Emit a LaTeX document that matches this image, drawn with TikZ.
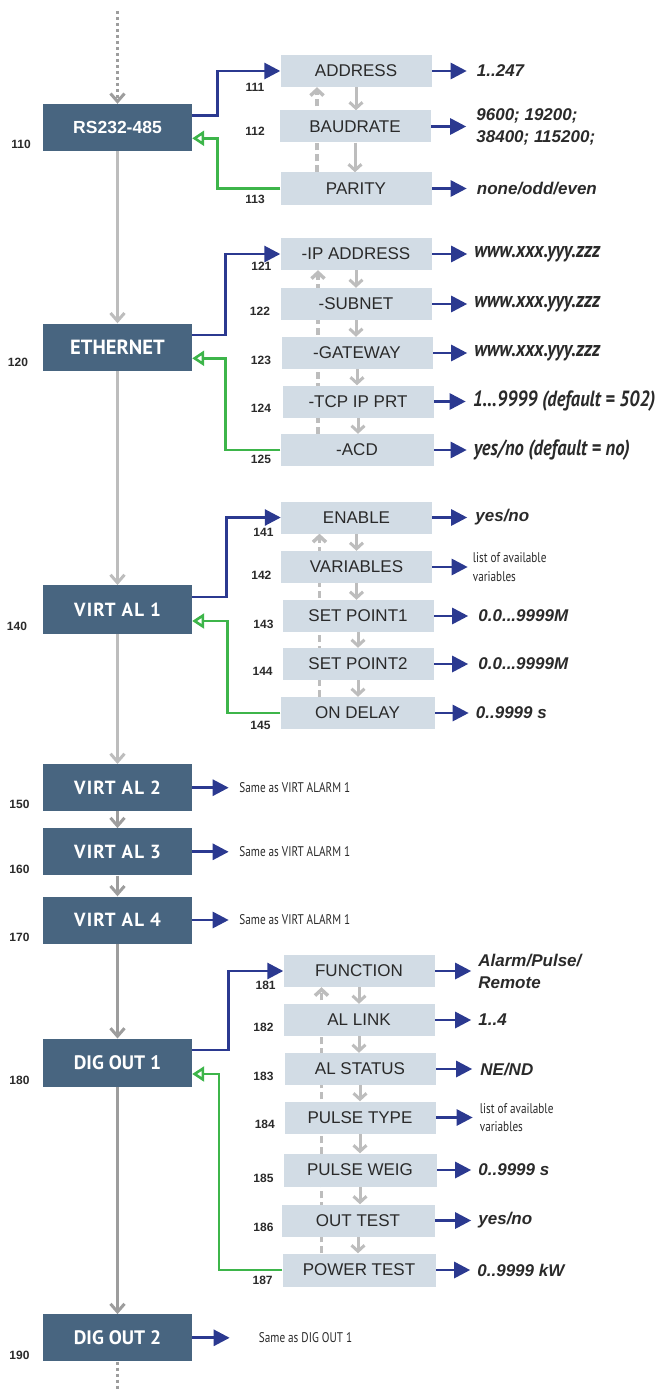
\documentclass[tikz,border=0pt]{standalone}
\usepackage{fontspec}
\setmainfont{Liberation Sans}
\newfontfamily\myr[FakeStretch=0.8]{PT Sans}
\newfontfamily\myrv[FakeStretch=0.84]{PT Sans}
\newfontfamily\myrw{PT Sans}
\newfontfamily\myrsp[LetterSpace=6]{PT Sans}
\usetikzlibrary{arrows.meta,backgrounds}
\definecolor{mainfill}{HTML}{486580}
\definecolor{subfill}{HTML}{D2DCE5}
\definecolor{navy}{HTML}{2B3990}
\definecolor{grn}{HTML}{3DB54A}
\definecolor{lgray}{HTML}{BDBDBD}
\definecolor{dgray}{HTML}{9D9D9D}
\definecolor{txt}{HTML}{2A2A2A}
\begin{document}
\begin{tikzpicture}[x=1pt,y=-1pt,
 mainbox/.style={fill=mainfill,text=white,minimum width=149pt,minimum height=47pt,inner sep=0pt,font=\myrw\bfseries\fontsize{19.5}{22}\selectfont},
 subbox/.style={fill=subfill,text=txt,minimum width=151pt,minimum height=32pt,inner sep=0pt,font=\fontsize{17}{19}\selectfont},
 num/.style={text=txt,inner sep=0pt,font=\bfseries\fontsize{12}{14}\selectfont},
 val/.style={anchor=west,text=txt,inner sep=0pt,align=left,font=\bfseries\itshape\fontsize{17}{22}\selectfont},
 valm/.style={anchor=west,text=txt,inner sep=0pt,font=\myrv\bfseries\itshape\fontsize{22}{24}\selectfont},
 note/.style={anchor=west,text=txt,inner sep=0pt,align=left,font=\myr\fontsize{14}{18.5}\selectfont},
 bluearr/.style={draw=navy,line width=2.8pt,-{Triangle[length=16pt,width=16pt]}},
 greenarr/.style={draw=grn,line width=2.6pt,-{Triangle[open,length=12pt,width=15pt]}},
 flowl/.style={draw=lgray,line width=3pt,-{Straight Barb[length=8pt,width=14pt]}},
 flowd/.style={draw=dgray,line width=3pt,-{Straight Barb[length=8pt,width=14pt]}},
 downarr/.style={draw=lgray,line width=3pt,-{Straight Barb[length=6pt,width=13pt]}},
 uparr/.style={draw=lgray,line width=3.5pt,dash pattern=on 7pt off 4pt,-{Straight Barb[length=6pt,width=13pt]}},
]
\useasboundingbox (0,0) rectangle (663,1391);

% ---------- main column ----------
\node[mainbox,font=\bfseries\fontsize{17.5}{20}\selectfont] (rs) at (117.5,127.5) {RS232-485};
\node[mainbox,font=\myrw\bfseries\fontsize{20.5}{22}\selectfont] (eth) at (117.5,347) {ETHERNET};
\node[mainbox,minimum height=48.5pt,font=\myrsp\bfseries\fontsize{19}{22}\selectfont] (va1) at (117.5,609.5) {VIRT AL 1};
\node[mainbox,font=\myrsp\bfseries\fontsize{19}{22}\selectfont] (va2) at (117.5,787.7) {VIRT AL 2};
\node[mainbox,font=\myrsp\bfseries\fontsize{19}{22}\selectfont] (va3) at (117.5,851.8) {VIRT AL 3};
\node[mainbox,font=\myrsp\bfseries\fontsize{19}{22}\selectfont] (va4) at (117.5,920) {VIRT AL 4};
\node[mainbox,minimum height=48pt] (do1) at (117.5,1062.7) {DIG OUT 1};
\node[mainbox] (do2) at (117.5,1337.8) {DIG OUT 2};
\coordinate (top) at (117.5,11);
\coordinate (bot) at (117.5,1391);

\node[num] (n110) at (21,144) {110};
\node[num] (n120) at (18,362.7) {120};
\node[num] (n140) at (17,626.7) {140};
\node[num] (n150) at (19.5,804.7) {150};
\node[num] (n160) at (19.5,869) {160};
\node[num] (n170) at (19.5,937.3) {170};
\node[num] (n180) at (19.5,1080) {180};
\node[num] (n190) at (19.5,1355) {190};

% ---------- RS232 group ----------
\node[subbox] (addr) at (356,71) {ADDRESS};
\node[subbox] (baud) at (355,126.5) {BAUDRATE};
\node[subbox] (par) at (356,188.5) {PARITY};
\node[num] (n111) at (255,87.3) {111};
\node[num] (n112) at (255,131.7) {112};
\node[num] (n113) at (255,199.3) {113};
\node[val] (v111) at ([xshift=45pt]addr.east) {1..247};
\node[val] (v112) at ([xshift=45.5pt]baud.east) {9600; 19200;\\38400; 115200;};
\node[val] (v113) at ([xshift=45pt]par.east) {none/odd/even};

% ---------- ETHERNET group ----------
\node[subbox] (ip) at (356,254) {-IP ADDRESS};
\node[subbox] (sub) at (356,304) {-SUBNET};
\node[subbox] (gw) at (357,353) {-GATEWAY};
\node[subbox] (tcp) at (358,401.5) {-TCP IP PRT};
\node[subbox,minimum width=153pt] (acd) at (357,450) {-ACD};
\node[num] (n121) at (261.4,266) {121};
\node[num] (n122) at (260,311.7) {122};
\node[num] (n123) at (261,360.7) {123};
\node[num] (n124) at (261,408.3) {124};
\node[num] (n125) at (261,459.3) {125};
\node[valm] (v121) at ([xshift=42.5pt]ip.east) {www.xxx.yyy.zzz};
\node[valm] (v122) at ([xshift=42.5pt]sub.east) {www.xxx.yyy.zzz};
\node[valm] (v123) at ([xshift=41.5pt]gw.east) {www.xxx.yyy.zzz};
\node[valm] (v124) at ([xshift=39pt]tcp.east) {1…9999 (default = 502)};
\node[valm] (v125) at ([xshift=40pt]acd.east) {yes/no (default = no)};

% ---------- VIRT AL 1 group ----------
\node[subbox] (en) at (356.5,517.5) {ENABLE};
\node[subbox] (var) at (356.5,567) {VARIABLES};
\node[subbox] (sp1) at (358,616) {SET POINT1};
\node[subbox] (sp2) at (358,664) {SET POINT2};
\node[subbox,minimum width=154pt] (ond) at (357.5,713) {ON DELAY};
\node[num] (n141) at (263.5,532.7) {141};
\node[num] (n142) at (261.4,575) {142};
\node[num] (n143) at (263.5,624) {143};
\node[num] (n144) at (262.6,671.7) {144};
\node[num] (n145) at (260.5,725) {145};
\node[val] (v141) at ([xshift=43pt]en.east) {yes/no};
\node[note] (v142) at ([xshift=40.5pt]var.east) {list of available\\variables};
\node[val] (v143) at ([xshift=44.5pt]sp1.east) {0.0...9999M};
\node[val] (v144) at ([xshift=44.5pt]sp2.east) {0.0...9999M};
\node[val] (v145) at ([xshift=41pt]ond.east) {0..9999 s};

\node[note] (s150) at ([xshift=47pt]va2.east) {Same as VIRT ALARM 1};
\node[note] (s160) at ([xshift=47pt]va3.east) {Same as VIRT ALARM 1};
\node[note] (s170) at ([xshift=47pt]va4.east) {Same as VIRT ALARM 1};

% ---------- DIG OUT 1 group ----------
\node[subbox] (fn) at (359,971) {FUNCTION};
\node[subbox] (all) at (359,1020) {AL LINK};
\node[subbox] (als) at (360,1069) {AL STATUS};
\node[subbox] (pt) at (360,1117.5) {PULSE TYPE};
\node[subbox,minimum width=153pt,minimum height=33pt] (pw) at (360,1170) {PULSE WEIG};
\node[subbox,minimum width=153pt] (ot) at (358,1220.5) {OUT TEST};
\node[subbox,minimum width=153pt,minimum height=33pt] (pwt) at (359,1270) {POWER TEST};
\node[num] (n181) at (265.6,985.7) {181};
\node[num] (n182) at (263.5,1027.3) {182};
\node[num] (n183) at (263.5,1076.7) {183};
\node[num] (n184) at (264.8,1124.3) {184};
\node[num] (n185) at (263.5,1178.3) {185};
\node[num] (n186) at (263.5,1227.3) {186};
\node[num] (n187) at (262.6,1280) {187};
\node[val] (v181) at ([xshift=43.5pt]fn.east) {Alarm/Pulse/\\Remote};
\node[val] (v182) at ([xshift=43.5pt]all.east) {1..4};
\node[val] (v183) at ([xshift=44.5pt]als.east) {NE/ND};
\node[note] (v184) at ([xshift=44pt]pt.east) {list of available\\variables};
\node[val] (v185) at ([xshift=41.5pt]pw.east) {0..9999 s};
\node[val] (v186) at ([xshift=43.5pt]ot.east) {yes/no};
\node[val] (v187) at ([xshift=41.5pt]pwt.east) {0..9999 kW};

\node[note] (s190) at ([xshift=66.5pt]do2.east) {Same as DIG OUT 1};

\begin{pgfonlayer}{background}
% main flow
\draw[flowd,dash pattern=on 3pt off 3pt] (top) -- (rs.north);
\draw[flowl] (rs.south) -- (eth.north);
\draw[flowl] (eth.south) -- (va1.north);
\draw[flowl] (va1.south) -- (va2.north);
\draw[flowd] (va2.south) -- (va3.north);
\draw[flowd] (va3.south) -- (va4.north);
\draw[flowd] (va4.south) -- (do1.north);
\draw[flowd] (do1.south) -- (do2.north);
\draw[draw=dgray,line width=3pt,dash pattern=on 3pt off 3pt] (do2.south) -- (bot);

% RS232 group
\draw[bluearr] ([yshift=11.8pt]rs.east) -- ++(25,0) |- (addr.west);
\draw[greenarr] (par.west) -- ++(-63,0) |- ([yshift=-10.8pt]rs.east);
\draw[downarr] (addr.south) -- (addr.south |- baud.north);
\draw[downarr] (baud.south) -- (baud.south |- par.north);
\coordinate (d1) at ([xshift=-39pt]par.north);
\draw[uparr] (d1) -- (d1 |- addr.south);
\draw[bluearr,shorten >=10pt] (addr.east) -- (v111);
\draw[bluearr,shorten >=10pt] (baud.east) -- (v112);
\draw[bluearr,shorten >=10pt] (par.east) -- (v113);

% ETHERNET group
\draw[bluearr] ([yshift=12pt]eth.east) -- ++(33,0) |- (ip.west);
\draw[greenarr] (acd.west) -- ++(-55,0) |- ([yshift=-11.3pt]eth.east);
\draw[downarr] (ip.south) -- (ip.south |- sub.north);
\draw[downarr] (sub.south) -- (sub.south |- gw.north);
\draw[downarr] (gw.south) -- (gw.south |- tcp.north);
\draw[downarr] (tcp.south) -- (tcp.south |- acd.north);
\coordinate (d2) at ([xshift=-39pt]acd.north);
\draw[uparr] (d2) -- (d2 |- ip.south);
\draw[bluearr,shorten >=7pt] (ip.east) -- (v121);
\draw[bluearr,shorten >=7pt] (sub.east) -- (v122);
\draw[bluearr,shorten >=7pt] (gw.east) -- (v123);
\draw[bluearr,shorten >=7pt] (tcp.east) -- (v124);
\draw[bluearr,shorten >=7pt] (acd.east) -- (v125);

% VIRT AL 1 group
\draw[bluearr] ([yshift=12.5pt]va1.east) -- ++(34,0) |- (en.west);
\draw[greenarr] (ond.west) -- ++(-53,0) |- ([yshift=-11.5pt]va1.east);
\draw[downarr] (en.south) -- (en.south |- var.north);
\draw[downarr] (var.south) -- (var.south |- sp1.north);
\draw[downarr] (sp1.south) -- (sp1.south |- sp2.north);
\draw[downarr] (sp2.south) -- (sp2.south |- ond.north);
\coordinate (d3) at ([xshift=-38pt]ond.north);
\draw[uparr] (d3) -- (d3 |- en.south);
\draw[bluearr,shorten >=8pt] (en.east) -- (v141);
\draw[bluearr,shorten >=5pt] (var.east) -- (v142);
\draw[bluearr,shorten >=10pt] (sp1.east) -- (v143);
\draw[bluearr,shorten >=10pt] (sp2.east) -- (v144);
\draw[bluearr,shorten >=7pt] (ond.east) -- (v145);

\draw[bluearr,shorten >=10.5pt] (va2.east) -- (s150);
\draw[bluearr,shorten >=10.5pt] (va3.east) -- (s160);
\draw[bluearr,shorten >=10.5pt] (va4.east) -- (s170);

% DIG OUT 1 group
\draw[bluearr] ([yshift=12.7pt]do1.east) -- ++(36.5,0) |- (fn.west);
\draw[greenarr] (pwt.west) -- ++(-63.5,0) |- ([yshift=-11.3pt]do1.east);
\draw[downarr] (fn.south) -- (fn.south |- all.north);
\draw[downarr] (all.south) -- (all.south |- als.north);
\draw[downarr] (als.south) -- (als.south |- pt.north);
\draw[downarr] (pt.south) -- (pt.south |- pw.north);
\draw[downarr] (pw.south) -- (pw.south |- ot.north);
\draw[downarr] (ot.south) -- (ot.south |- pwt.north);
\coordinate (d4) at ([xshift=-37.5pt]pwt.north);
\draw[uparr] (d4) -- (d4 |- fn.south);
\draw[bluearr,shorten >=7pt] (fn.east) -- (v181);
\draw[bluearr,shorten >=7pt] (all.east) -- (v182);
\draw[bluearr,shorten >=8pt] (als.east) -- (v183);
\draw[bluearr,shorten >=7pt] (pt.east) -- (v184);
\draw[bluearr,shorten >=7pt] (pw.east) -- (v185);
\draw[bluearr,shorten >=7pt] (ot.east) -- (v186);
\draw[bluearr,shorten >=7pt] (pwt.east) -- (v187);

\draw[bluearr,shorten >=29pt] (do2.east) -- (s190);
\end{pgfonlayer}
\end{tikzpicture}
\end{document}
